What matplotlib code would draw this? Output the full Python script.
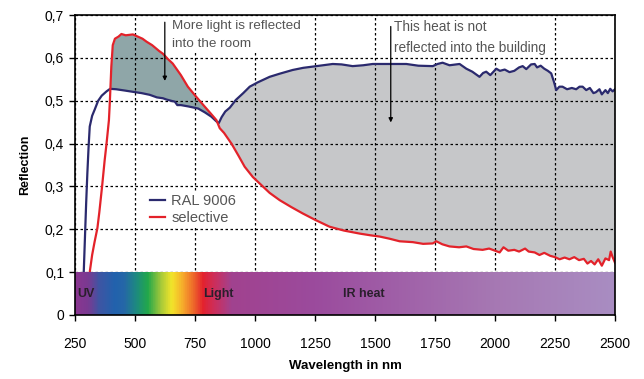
import numpy as np
import matplotlib
matplotlib.use("Agg")
import matplotlib.pyplot as plt
from matplotlib.colors import LinearSegmentedColormap

plt.rcParams['font.family'] = ['Liberation Sans', 'DejaVu Sans']

# ---- data ----
blue_nm = [285, 290, 295, 300, 305, 310, 320, 331, 345, 360, 380, 395, 420, 456, 490, 526, 560, 590, 615, 630,
           650, 665, 675, 690, 720, 762, 790, 817, 838, 848, 860, 875, 894, 919, 950, 977, 1010, 1060, 1100, 1156,
           1200, 1255, 1323, 1360, 1406, 1450, 1490, 1550, 1630, 1680, 1740, 1760, 1781, 1810, 1852, 1880, 1905,
           1920, 1935, 1950, 1963, 1980, 2005, 2020, 2040, 2060, 2080, 2100, 2115, 2130, 2150, 2165, 2175, 2190,
           2205, 2220, 2234, 2245, 2255, 2268, 2281, 2300, 2320, 2338, 2352, 2365, 2380, 2395, 2410, 2420, 2435,
           2445, 2460, 2470, 2480, 2490, 2500]
blue_val = [0.10, 0.18, 0.26, 0.33, 0.39, 0.44, 0.465, 0.48, 0.50, 0.512, 0.522, 0.528, 0.527, 0.524, 0.521, 0.518,
            0.514, 0.508, 0.506, 0.503, 0.500, 0.498, 0.490, 0.490, 0.487, 0.482, 0.473, 0.463, 0.452, 0.448, 0.462,
            0.475, 0.484, 0.502, 0.518, 0.533, 0.543, 0.556, 0.563, 0.572, 0.577, 0.581, 0.586, 0.585, 0.581, 0.583,
            0.586, 0.586, 0.586, 0.582, 0.581, 0.586, 0.589, 0.583, 0.586, 0.575, 0.568, 0.562, 0.556, 0.565, 0.568,
            0.560, 0.575, 0.570, 0.573, 0.567, 0.570, 0.578, 0.581, 0.574, 0.585, 0.586, 0.578, 0.582, 0.575, 0.570,
            0.564, 0.545, 0.525, 0.533, 0.533, 0.527, 0.530, 0.527, 0.533, 0.533, 0.525, 0.530, 0.518, 0.520, 0.527,
            0.515, 0.525, 0.518, 0.528, 0.522, 0.527]

red_nm = [310, 320, 330, 342, 350, 362, 372, 380, 390, 394, 400, 406, 415, 430, 442, 460, 490, 510, 530, 547, 570,
          600, 615, 635, 656, 690, 719, 750, 790, 815, 838, 852, 870, 901, 930, 956, 990, 1026, 1060, 1102, 1150,
          1198, 1250, 1310, 1370, 1435, 1480, 1519, 1560, 1602, 1657, 1700, 1740, 1755, 1780, 1810, 1850, 1880,
          1910, 1948, 1975, 2000, 2019, 2035, 2055, 2080, 2100, 2125, 2140, 2165, 2185, 2205, 2230, 2250, 2269,
          2290, 2310, 2330, 2350, 2370, 2385, 2400, 2415, 2430, 2445, 2460, 2475, 2482, 2490, 2500]
red_val = [0.10, 0.14, 0.17, 0.203, 0.24, 0.303, 0.36, 0.40, 0.455, 0.50, 0.58, 0.63, 0.645, 0.650, 0.656, 0.653,
           0.655, 0.650, 0.645, 0.638, 0.630, 0.616, 0.610, 0.598, 0.587, 0.560, 0.533, 0.512, 0.486, 0.470, 0.455,
           0.436, 0.425, 0.400, 0.372, 0.346, 0.322, 0.303, 0.285, 0.268, 0.252, 0.237, 0.222, 0.206, 0.197, 0.190,
           0.186, 0.183, 0.178, 0.172, 0.170, 0.166, 0.167, 0.172, 0.165, 0.160, 0.158, 0.160, 0.154, 0.152, 0.155,
           0.150, 0.146, 0.158, 0.150, 0.152, 0.148, 0.155, 0.148, 0.146, 0.140, 0.145, 0.138, 0.135, 0.130, 0.134,
           0.130, 0.135, 0.128, 0.131, 0.120, 0.126, 0.118, 0.130, 0.115, 0.132, 0.128, 0.148, 0.135, 0.122]

x_ticks = [250, 500, 750, 1000, 1250, 1500, 1750, 2000, 2250, 2500]
y_ticks = [0, 0.1, 0.2, 0.3, 0.4, 0.5, 0.6, 0.7]
y_labels = ['0', '0,1', '0,2', '0,3', '0,4', '0,5', '0,6', '0,7']

# spectrum band colour stops (nm, colour)
spec_nm = [250, 300, 345, 410, 450, 500, 550, 600, 650, 700, 740, 780, 830, 900, 1250, 1600, 2000, 2500]
spec_col = ['#8a3690', '#7a3a92', '#3f55a3', '#2262ad', '#2566a8', '#1d8a80', '#22a84b', '#9cc63b', '#f3e52a',
            '#f6a52c', '#ee6a2a', '#e4222e', '#cc2f5d', '#a1428f', '#9b4b9d', '#a060a8', '#a678b3', '#a98dc2']

BLUE = '#2b2a6e'
RED = '#e3222a'

fig = plt.figure(figsize=(6.44, 3.79), dpi=100)
ax = fig.add_axes([0.117, 0.169, 0.838, 0.791])

# fills between curves
xx = np.union1d(blue_nm, red_nm)
xx = xx[(xx >= 394)]
bi = np.interp(xx, blue_nm, blue_val)
ri = np.interp(xx, red_nm, red_val)
ax.fill_between(xx, bi, ri, where=ri >= bi, interpolate=True, color='#8fa6a8', lw=0, zorder=1)
ax.fill_between(xx, bi, ri, where=bi >= ri, interpolate=True, color='#c6c7c9', lw=0, zorder=1)

ax.plot(blue_nm, blue_val, color=BLUE, lw=1.6, label='RAL 9006', zorder=2)
ax.plot(red_nm, red_val, color=RED, lw=1.6, label='selective', zorder=2)

# spectrum band
pos = [(n - 250) / 2250 for n in spec_nm]
cmap = LinearSegmentedColormap.from_list('spec', list(zip(pos, spec_col)))
grad = np.linspace(0, 1, 1000).reshape(1, -1)
ax.imshow(grad, cmap=cmap, extent=[250, 2500, 0, 0.1], aspect='auto', zorder=2.2, interpolation='bilinear')

tc = '#2a1f2c'
ax.text(258, 0.05, 'UV', fontsize=9, fontweight='bold', color=tc, va='center', zorder=3)
ax.text(782, 0.05, 'Light', fontsize=9, fontweight='bold', color=tc, va='center', zorder=3)
ax.text(1365, 0.05, 'IR heat', fontsize=9, fontweight='bold', color=tc, va='center', zorder=3)

ax.set_xlim(250, 2500)
ax.set_ylim(0, 0.7)
ax.set_xticks(x_ticks)
ax.set_yticks(y_ticks)
ax.set_yticklabels(y_labels)
ax.tick_params(direction='out', length=4, width=1, labelsize=10, colors='black', pad=4)
ax.tick_params(axis='x', pad=12)
ax.set_axisbelow('line')
ax.grid(True, color='black', linestyle=(0, (2, 2)), linewidth=0.9)
for s in ax.spines.values():
    s.set_linewidth(1.2)
    s.set_zorder(3)

ax.set_xlabel('Wavelength in nm', fontsize=9.5, fontweight='bold', labelpad=6)
ax.set_ylabel('Reflection', fontsize=9, fontweight='bold', labelpad=10)

# annotations
ac = '#555555'
box = dict(facecolor='white', edgecolor='none', pad=1.5)
ax.annotate('', xy=(623, 0.54), xytext=(623, 0.69),
            arrowprops=dict(arrowstyle='-|>', color='black', lw=0.9, mutation_scale=6), zorder=5)
ax.text(652, 0.688, 'More light is reflected\ninto the room', fontsize=9.7, color=ac, va='top',
        linespacing=1.6, zorder=4, bbox=box)
ax.annotate('', xy=(1565, 0.443), xytext=(1565, 0.68),
            arrowprops=dict(arrowstyle='-|>', color='black', lw=0.9, mutation_scale=6), zorder=5)
ax.text(1578, 0.688, 'This heat is not\nreflected into the building', fontsize=9.8, color=ac, va='top',
        linespacing=1.6, zorder=4, bbox=box)

leg = ax.legend(loc='upper left', bbox_to_anchor=(0.12, 0.437), frameon=True, fontsize=10.5,
                handlelength=1.0, handletextpad=0.45, labelspacing=0.2, borderpad=0.2,
                fancybox=False, framealpha=1)
leg.get_frame().set_facecolor('white')
leg.get_frame().set_edgecolor('none')
leg.set_zorder(4)
for t in leg.get_texts():
    t.set_color('#555555')

fig.savefig('out.png', dpi=100)
